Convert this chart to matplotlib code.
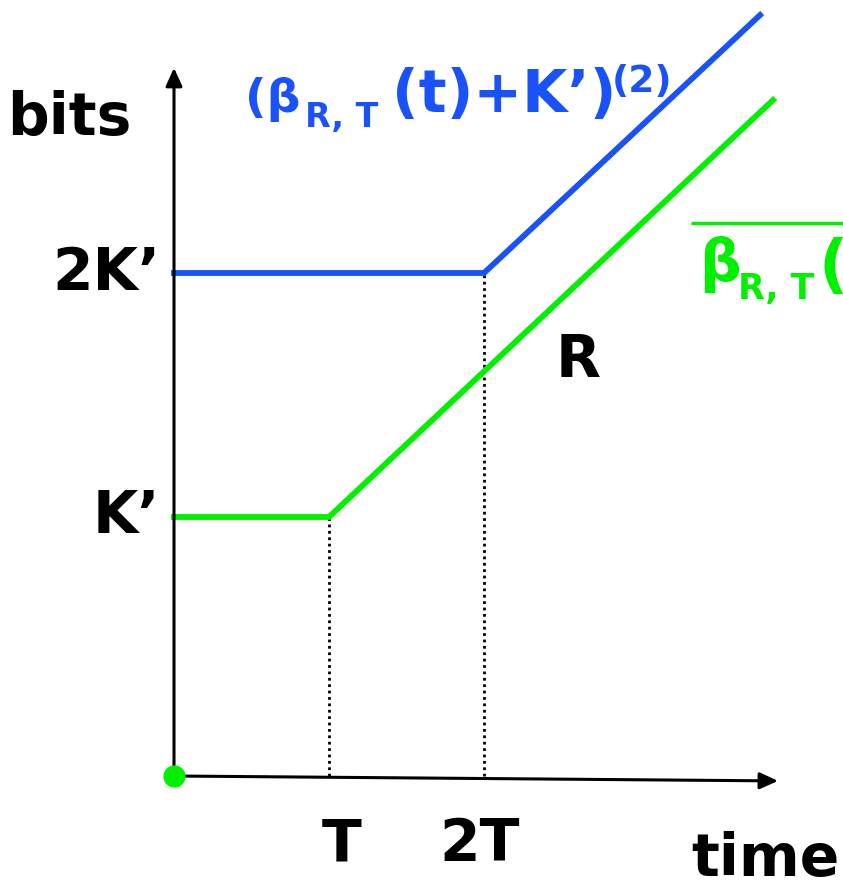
import matplotlib
matplotlib.use("Agg")
import matplotlib.pyplot as plt

plt.rcParams["font.family"] = ["DejaVu Sans"]

BLUE = "#1a52fa"
GREEN = "#00f000"

# time in units of T, bits in units of K'
green_t = [0.0, 1.0, 3.865]
green_bits = [1.0, 1.0, 2.610]
blue_t = [0.0, 2.0, 3.781]
blue_bits = [1.942, 1.942, 2.938]

tick_t = [1.0, 2.0]
tick_t_labels = ["T", "2T"]
level_bits = [1.0, 1.942]
level_labels = ["K’", "2K’"]

fig = plt.figure(figsize=(8.43, 8.94), dpi=100)
ax = fig.add_axes([0, 0, 1, 1])
ax.set_xlim(-1.1226, 4.3161)
ax.set_ylim(-0.4556, 2.9961)
ax.axis("off")

# axes with arrow heads
arrow = dict(arrowstyle="-|>,head_length=1.1,head_width=0.5", color="black",
             lw=2.2, shrinkA=0, shrinkB=0)
ax.annotate("", xy=(0, 2.734), xytext=(0, 0), arrowprops=arrow)
ax.annotate("", xy=(3.897, -0.019), xytext=(0, 0), arrowprops=arrow)

# dotted guides from the break points down to the time axis
ax.plot([tick_t[0]] * 2, [0, green_bits[1]], color="black", lw=2,
        ls=(0, (1, 1.3)))
ax.plot([tick_t[1]] * 2, [0, blue_bits[1]], color="black", lw=2,
        ls=(0, (1, 1.3)))

ax.plot(blue_t, blue_bits, color=BLUE, lw=4.2, solid_joinstyle="miter")
ax.plot(green_t, green_bits, color=GREEN, lw=4.2, solid_joinstyle="miter")
ax.plot([0], [0], "o", color=GREEN, ms=15, zorder=5)

lab = dict(fontsize=42, fontweight="bold", color="black")
ax.text(-0.677, 2.537, "bits", ha="center", va="center", **lab)
for y, s in zip(level_bits, level_labels):
    ax.text(-0.09, y, s, ha="right", va="center", **lab)
for x, s in zip([1.08, 1.97], tick_t_labels):
    ax.text(x, -0.266, s, ha="center", va="center", **lab)
ax.text(3.813, -0.324, "time", ha="center", va="center", **lab)
ax.text(2.606, 1.606, "R", ha="center", va="center", **lab)

# blue curve label, built from pieces: (β_{R,T}(t)+K')^(2)
blue_lab = dict(color=BLUE, fontweight="bold", ha="left", va="baseline")
ax.text(0.458, 2.564, "(β", fontsize=34, **blue_lab)
ax.text(0.845, 2.506, "R, T", fontsize=24, **blue_lab)
ax.text(1.406, 2.564, "(t)+K’)", fontsize=42, **blue_lab)
ax.text(2.826, 2.641, "(2)", fontsize=27, **blue_lab)

# green curve label (mean of β_{R,T}(t)), runs off the right edge
green_lab = dict(color=GREEN, fontweight="bold", ha="left", va="baseline")
ax.plot([3.336, 4.32], [2.135, 2.135], color=GREEN, lw=2.4,
        solid_capstyle="butt")
ax.text(3.39, 1.91, "β", fontsize=42, **green_lab)
ax.text(3.64, 1.84, "R, T", fontsize=25, **green_lab)
ax.text(4.16, 1.89, "(t)", fontsize=46, **green_lab)

fig.savefig("out.png", dpi=100)
